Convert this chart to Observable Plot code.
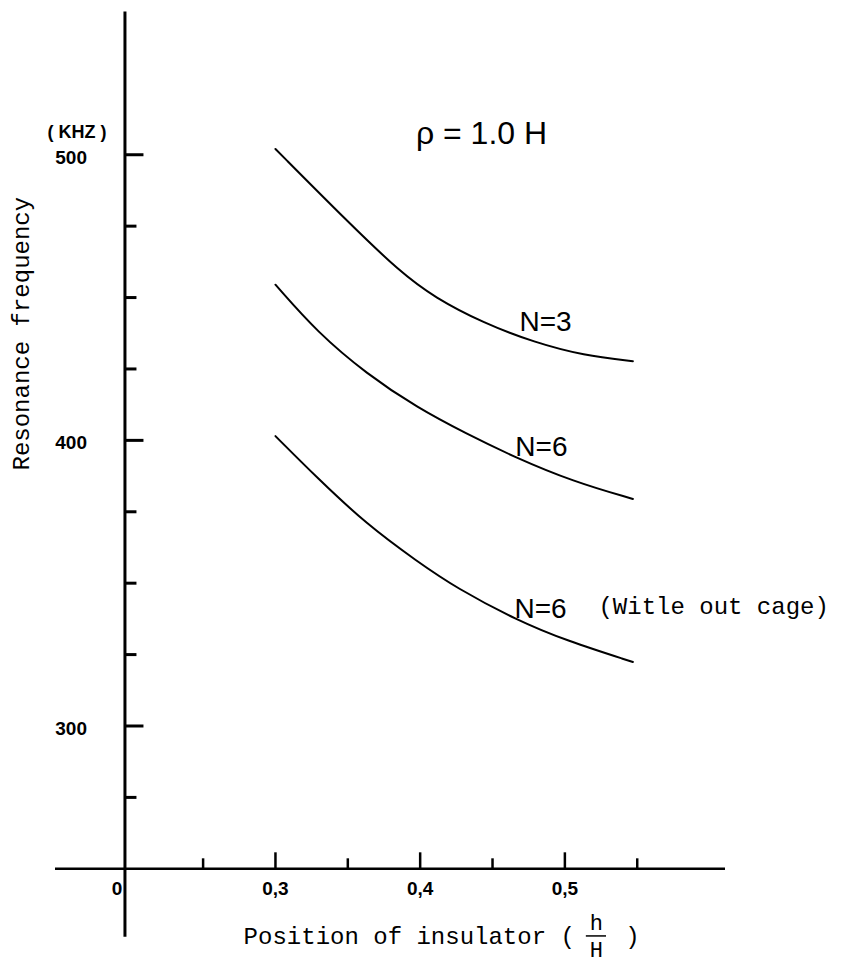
<!DOCTYPE html>
<html><head><meta charset="utf-8">
<script src="https://cdn.jsdelivr.net/npm/d3@7"></script>
<script src="https://cdn.jsdelivr.net/npm/@observablehq/plot@0.6"></script>
<style>html,body{margin:0;padding:0;background:#fff;} #chart svg{display:block}</style>
</head><body><div id="chart"></div>
<script>
// ---- data ----
const n3X   = [0.300, 0.350, 0.386, 0.410, 0.444, 0.479, 0.513, 0.547];
const n3Y   = [502.0, 476.5, 459.0, 450.0, 441.0, 434.3, 429.7, 427.7];
const n6X   = [0.300, 0.329, 0.363, 0.398, 0.432, 0.464, 0.506, 0.547];
const n6Y   = [454.5, 437.8, 423.3, 411.4, 402.3, 394.4, 385.5, 379.5];
const n6woX = [0.300, 0.329, 0.363, 0.398, 0.425, 0.467, 0.501, 0.547];
const n6woY = [401.5, 386.8, 370.6, 357.6, 348.3, 337.0, 329.9, 322.4];

const seriesNames = ["N=3", "N=6", "N=6"];
const seriesNote = "(Witle out cage)";
const seriesLabelX = [0.4866, 0.4838, 0.4832];
const seriesLabelY = [441.3, 397.8, 341.1];

const yMajorTicks  = [500, 400, 300];
const yMajorLabels = ["500", "400", "300"];
const yMinorTicks  = [475, 450, 425, 375, 350, 325, 275];
const xMajorTicks  = [0.3, 0.4, 0.5];
const xMajorLabels = ["0,3", "0,4", "0,5"];
const xMinorTicks  = [0.25, 0.35, 0.45, 0.55];
const originX = 0.196, originY = 250, originLabel = "0";
const unitLabel = "( KHZ )";
const paramLabel = "\u03C1 = 1.0 H";
const yTitle = "Resonance frequency";
const xTitle = "Position of insulator (";

// ---- layout ----
const W = 845, H = 963;
const xDomain = [0.148, 0.611], yDomain = [220, 554];
const mL = 55, mR = 120, mT = 0, mB = 9;
const pxX = (W - mL - mR) / (xDomain[1] - xDomain[0]);
const pxY = (H - mT - mB) / (yDomain[1] - yDomain[0]);

const toRows = (xs, ys, name) => xs.map((x, i) => ({x, y: ys[i], name}));
const lines = [
  ...toRows(n3X, n3Y, "a"),
  ...toRows(n6X, n6Y, "b"),
  ...toRows(n6woX, n6woY, "c")
];

const numFont = "Liberation Sans, Arial, sans-serif";
const monoFont = "Liberation Mono, DejaVu Sans Mono, monospace";
const monoSize = 24;
const xTitleX = 0.278, xTitleY = 226.5;
const charW = monoSize * 0.6;

const chart = Plot.plot({
  width: W, height: H,
  marginLeft: mL, marginRight: mR, marginTop: mT, marginBottom: mB,
  x: {domain: xDomain, axis: null},
  y: {domain: yDomain, axis: null},
  style: {background: "#fff", color: "#000"},
  marks: [
    // axes lines
    Plot.ruleX([originX], {y1: 226, y2: 550, stroke: "#000", strokeWidth: 3}),
    Plot.ruleY([originY], {x1: xDomain[0], x2: xDomain[1], stroke: "#000", strokeWidth: 2.5}),
    // y ticks
    Plot.ruleY(yMajorTicks, {y: d => d, x1: originX, x2: originX + 19 / pxX, stroke: "#000", strokeWidth: 3}),
    Plot.ruleY(yMinorTicks, {y: d => d, x1: originX, x2: originX + 12 / pxX, stroke: "#000", strokeWidth: 3}),
    // x ticks
    Plot.ruleX(xMajorTicks, {x: d => d, y1: originY, y2: originY + 16 / pxY, stroke: "#000", strokeWidth: 2.5}),
    Plot.ruleX(xMinorTicks, {x: d => d, y1: originY, y2: originY + 10 / pxY, stroke: "#000", strokeWidth: 2.5}),
    // y tick labels
    Plot.text(yMajorTicks, {x: originX, y: d => d, text: (d, i) => yMajorLabels[i], textAnchor: "end", dx: -38, dy: 3,
      fontFamily: numFont, fontWeight: "bold", fontSize: 19, fill: "#000"}),
    // x tick labels
    Plot.text(xMajorTicks, {x: d => d, y: originY, text: (d, i) => xMajorLabels[i], dy: 20,
      fontFamily: numFont, fontWeight: "bold", fontSize: 19, fill: "#000"}),
    Plot.text([originLabel], {x: originX, y: originY, text: d => d, dx: -8, dy: 20,
      fontFamily: numFont, fontWeight: "bold", fontSize: 19, fill: "#000"}),
    // unit label
    Plot.text([unitLabel], {x: originX, y: 500, text: d => d, dx: -48, dy: -23,
      fontFamily: numFont, fontWeight: "bold", fontSize: 18, fill: "#000"}),
    // curves
    Plot.line(lines, {x: "x", y: "y", z: "name", curve: "basis", stroke: "#000", strokeWidth: 2}),
    // series labels
    Plot.text(seriesNames, {x: (d, i) => seriesLabelX[i], y: (d, i) => seriesLabelY[i], text: d => d,
      fontFamily: numFont, fontSize: 28, fill: "#000"}),
    Plot.text([seriesNote], {x: 0.5232, y: 341.8, text: d => d, textAnchor: "start",
      fontFamily: monoFont, fontSize: monoSize, fill: "#000"}),
    // parameter label
    Plot.text([paramLabel], {x: 0.4424, y: 507.4, text: d => d,
      fontFamily: numFont, fontSize: 32, fill: "#000"}),
    // y title
    Plot.text([yTitle], {frameAnchor: "left", dx: -34, dy: -7, rotate: -90, text: d => d,
      fontFamily: monoFont, fontSize: monoSize, fill: "#000"}),
    // x title with fraction
    Plot.text([xTitle], {x: xTitleX, y: xTitleY, text: d => d, textAnchor: "start",
      fontFamily: monoFont, fontSize: monoSize, fill: "#000"}),
    Plot.text(["h"], {x: xTitleX, y: xTitleY, text: d => d, dx: charW * 24.5, dy: -13,
      fontFamily: monoFont, fontSize: monoSize - 2, fill: "#000"}),
    Plot.text(["H"], {x: xTitleX, y: xTitleY, text: d => d, dx: charW * 24.5, dy: 14,
      fontFamily: monoFont, fontSize: monoSize - 2, fill: "#000"}),
    Plot.ruleY([xTitleY], {x1: xTitleX + charW * 23.8 / pxX, x2: xTitleX + charW * 25.2 / pxX, stroke: "#000", strokeWidth: 1.5}),
    Plot.text([")"], {x: xTitleX, y: xTitleY, text: d => d, dx: charW * 27, 
      fontFamily: monoFont, fontSize: monoSize, fill: "#000"})
  ]
});
document.getElementById("chart").appendChild(chart);
</script>
</body></html>
